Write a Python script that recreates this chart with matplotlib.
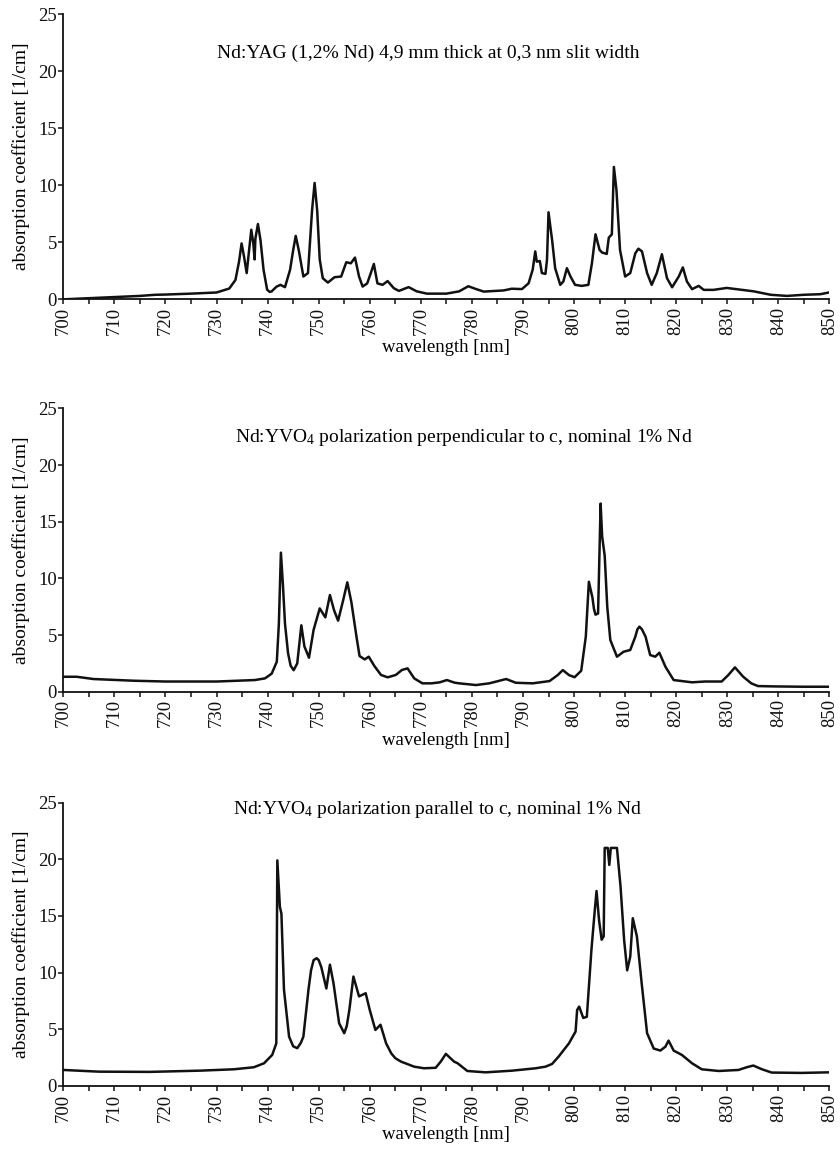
import matplotlib
matplotlib.use("Agg")
import matplotlib.pyplot as plt
from matplotlib.ticker import MultipleLocator

plt.rcParams['font.family'] = ['Liberation Serif', 'DejaVu Serif']
plt.rcParams['mathtext.fontset'] = 'custom'
plt.rcParams['mathtext.rm'] = 'Liberation Serif'
plt.rcParams['mathtext.it'] = 'Liberation Serif:italic'

# Nd:YAG (1.2% Nd), 4.9 mm thick
yag_wl = [700, 705, 710, 715, 718, 720, 725, 730, 732.5, 733.7, 734.4, 734.9, 735.4, 735.9,
          736.3, 736.8, 737.2, 737.45, 737.6, 738.1, 738.6, 739.2, 739.9, 740.4, 740.8, 741.7,
          742.5, 743.4, 744.4, 745.0, 745.5, 746.1, 747.0, 747.9, 748.7, 749.2, 749.7, 750.2,
          750.8, 751.8, 753.1, 754.4, 755.4, 756.3, 757.1, 757.9, 758.6, 759.5, 760.2, 760.8,
          761.5, 762.5, 763.5, 764.7, 765.7, 767.6, 769.2, 771.2, 775, 777.5, 779.3,
          780.5, 782.3, 786.2, 787.8, 789.8, 791.1, 791.9, 792.4, 792.7, 793.3, 793.7,
          794.4, 794.7, 795.0, 795.7, 796.3, 797.3, 797.9, 798.6, 799.3, 800.2, 801.5,
          802.8, 803.5, 804.2, 805.0, 805.5, 806.4, 806.8, 807.4, 807.8, 808.3, 809.0,
          810.0, 811.0, 812.0, 812.6, 813.3, 814.3, 815.2, 816.2, 817.2, 818.2, 819.2,
          820.5, 821.3, 822.1, 823.1, 824.4, 825.4, 827.3, 829.9, 835.2, 838.5, 841.7,
          845, 848.2, 849.9]
yag_abs = [0.0, 0.1, 0.2, 0.3, 0.4, 0.42, 0.5, 0.6, 0.95, 1.7, 3.3, 4.9, 3.7, 2.3,
           4.0, 6.1, 4.9, 3.5, 5.3, 6.6, 5.2, 2.6, 0.85, 0.65, 0.7, 1.1,
           1.27, 1.07, 2.6, 4.3, 5.56, 4.3, 2.0, 2.3, 7.8, 10.2, 7.8, 3.5,
           1.85, 1.47, 1.94, 2.0, 3.25, 3.16, 3.66, 2.0, 1.12, 1.4, 2.3, 3.1,
           1.4, 1.27, 1.6, 0.98, 0.74, 1.07, 0.7, 0.5, 0.5, 0.7, 1.15,
           0.95, 0.68, 0.78, 0.93, 0.9, 1.41, 2.6, 4.2, 3.3, 3.36, 2.3,
           2.23, 3.46, 7.63, 5.2, 2.73, 1.27, 1.56, 2.73, 2.0, 1.27, 1.18,
           1.27, 3.17, 5.7, 4.33, 4.1, 3.98, 5.4, 5.7, 11.6, 9.6, 4.33,
           2.0, 2.3, 4.04, 4.44, 4.2, 2.3, 1.27, 2.3, 3.95, 1.85, 1.06,
           2.0, 2.8, 1.56, 0.89, 1.18, 0.83, 0.83, 1.0, 0.7, 0.4, 0.3,
           0.4, 0.45, 0.6]

# Nd:YVO4, polarization perpendicular to c
perp_wl = [700, 702.6, 705.9, 713.8, 720, 730, 737.5, 739.5, 740.8, 741.8, 742.2, 742.6,
           743.0, 743.4, 744.0, 744.5, 745.1, 745.8, 746.6, 747.2, 748.1, 749.0, 750.2, 751.3,
           752.2, 753.0, 753.8, 754.8, 755.6, 756.4, 757.4, 758.0, 759.0, 759.8, 760.9,
           762.2, 763.5, 765.1, 766.3, 767.4, 768.7, 770.3, 772.1, 773.7, 775.1, 776.6,
           777.5, 780.8, 783.4, 786.7, 788.6, 791.9, 795.2, 796.8, 797.8, 799.0, 800.1,
           801.4, 802.3, 802.9, 803.6, 803.9, 804.2, 804.7, 805.2, 805.5, 806.0, 806.5,
           807.1, 808.4, 809.7, 811.0, 812.0, 812.4, 812.8, 813.3, 814.0, 814.9, 815.9,
           816.7, 817.9, 819.5, 823.1, 825.6, 828.9, 830.2, 831.5, 833.1, 834.7, 836.0,
           839.0, 844.8, 849.7]
perp_abs = [1.32, 1.32, 1.12, 0.97, 0.9, 0.9, 1.03, 1.18, 1.6, 2.65, 6.0, 12.27,
            9.4, 6.0, 3.4, 2.3, 1.9, 2.5, 5.86, 4.0, 3.0, 5.45, 7.35, 6.56,
            8.53, 7.2, 6.27, 8.09, 9.65, 7.9, 4.85, 3.15, 2.85, 3.09, 2.27,
            1.48, 1.27, 1.48, 1.92, 2.06, 1.18, 0.74, 0.74, 0.83, 1.03, 0.8,
            0.74, 0.59, 0.74, 1.12, 0.79, 0.74, 0.94, 1.47, 1.91, 1.47, 1.28,
            1.85, 4.86, 9.7, 8.3, 7.3, 6.8, 6.9, 16.6, 13.7, 12.0, 7.5,
            4.56, 3.09, 3.53, 3.68, 4.86, 5.5, 5.74, 5.5, 4.86, 3.24, 3.09,
            3.44, 2.2, 1.03, 0.83, 0.9, 0.9, 1.47, 2.15, 1.33, 0.74, 0.5,
            0.47, 0.44, 0.44]

# Nd:YVO4, polarization parallel to c
par_wl = [700, 707, 716.9, 726.8, 733.4, 737.3, 739.3, 740.9, 741.7, 741.9, 742.4, 742.7,
          743.2, 744.2, 745.0, 745.8, 746.5, 747.0, 748.0, 748.5, 749.0, 749.6, 750.0, 750.5,
          751.5, 752.2, 752.9, 754.0, 755.0, 755.5, 756.0, 756.8, 757.9, 759.2, 760.0,
          761.1, 762.1, 763.2, 764.2, 765.0, 766.1, 768.7, 770.6, 772.9, 773.9, 774.9,
          776.5, 777.2, 779.1, 782.7, 787.9, 792.5, 794.4, 795.7, 797.0, 799.0, 800.3,
          800.6, 801.0, 801.8, 802.5, 803.4, 804.0, 804.4, 804.9, 805.4, 805.8, 806.0,
          806.6, 806.9, 807.2, 808.4, 809.1, 809.8, 810.4, 811.0, 811.5, 812.3, 813.3,
          814.3, 815.6, 816.9, 817.9, 818.5, 819.5, 821.1, 823.1, 825.0, 828.3, 832.2,
          833.8, 835.1, 836.8, 838.7, 844.6, 849.8]
par_abs = [1.41, 1.26, 1.24, 1.35, 1.47, 1.65, 2.0, 2.74, 3.76, 19.9, 15.8, 15.2,
           8.5, 4.35, 3.5, 3.33, 3.8, 4.35, 8.5, 10.2, 11.1, 11.27, 11.1, 10.5,
           8.6, 10.7, 9.06, 5.53, 4.65, 5.3, 6.7, 9.65, 7.9, 8.18, 6.7,
           4.94, 5.4, 3.76, 2.88, 2.45, 2.15, 1.7, 1.56, 1.6, 2.15, 2.83,
           2.15, 2.0, 1.32, 1.2, 1.35, 1.56, 1.7, 1.94, 2.6, 3.76, 4.8,
           6.7, 7.0, 6.0, 6.1, 12.0, 15.2, 17.2, 14.6, 12.9, 13.2, 21.0,
           21.0, 19.5, 21.0, 21.0, 17.6, 12.9, 10.2, 11.4, 14.8, 13.2, 8.8,
           4.65, 3.3, 3.12, 3.47, 4.0, 3.12, 2.74, 2.0, 1.47, 1.32, 1.41,
           1.65, 1.8, 1.47, 1.18, 1.15, 1.2]

titles = [
    "Nd:YAG (1,2% Nd) 4,9 mm thick at 0,3 nm slit width",
    r"Nd:YVO$_4$ polarization perpendicular to c, nominal 1% Nd",
    r"Nd:YVO$_4$ polarization parallel to c, nominal 1% Nd",
]
title_pos = [(0.476, 0.863), (0.523, 0.896), (0.489, 0.975)]
series = [(yag_wl, yag_abs), (perp_wl, perp_abs), (par_wl, par_abs)]

fig = plt.figure(figsize=(8.4, 11.5), dpi=100)
fig.patch.set_facecolor('white')

left, width = 0.0754, 0.912
boxes = [(0.7397, 0.2481), (0.3985, 0.2464), (0.0557, 0.2464)]

for (bottom, height), (wl, ab), title, (tx, ty) in zip(boxes, series, titles, title_pos):
    ax = fig.add_axes([left, bottom, width, height])
    ax.plot(wl, ab, color='#111111', lw=1.8, solid_joinstyle='round')
    ax.set_xlim(700, 850)
    ax.set_ylim(0, 25)
    ax.spines['top'].set_visible(False)
    ax.spines['right'].set_visible(False)
    for s in ('left', 'bottom'):
        ax.spines[s].set_linewidth(1.3)
        ax.spines[s].set_color('#111111')
    ax.xaxis.set_major_locator(MultipleLocator(10))
    ax.xaxis.set_minor_locator(MultipleLocator(5))
    ax.yaxis.set_major_locator(MultipleLocator(5))
    ax.tick_params(axis='both', which='both', direction='out', length=3.5, width=1.1,
                   colors='#111111', labelsize=13.5)
    ax.tick_params(axis='x', which='major', labelrotation=90, pad=2)
    ax.tick_params(axis='y', which='major', pad=1)
    ax.set_xlabel("wavelength [nm]", fontsize=13.5, labelpad=3)
    ax.set_ylabel("absorption coefficient [1/cm]", fontsize=14, labelpad=6)
    ax.text(tx, ty, title, transform=ax.transAxes, ha='center', va='center', fontsize=14)

fig.savefig("out.png", dpi=100, facecolor='white')
